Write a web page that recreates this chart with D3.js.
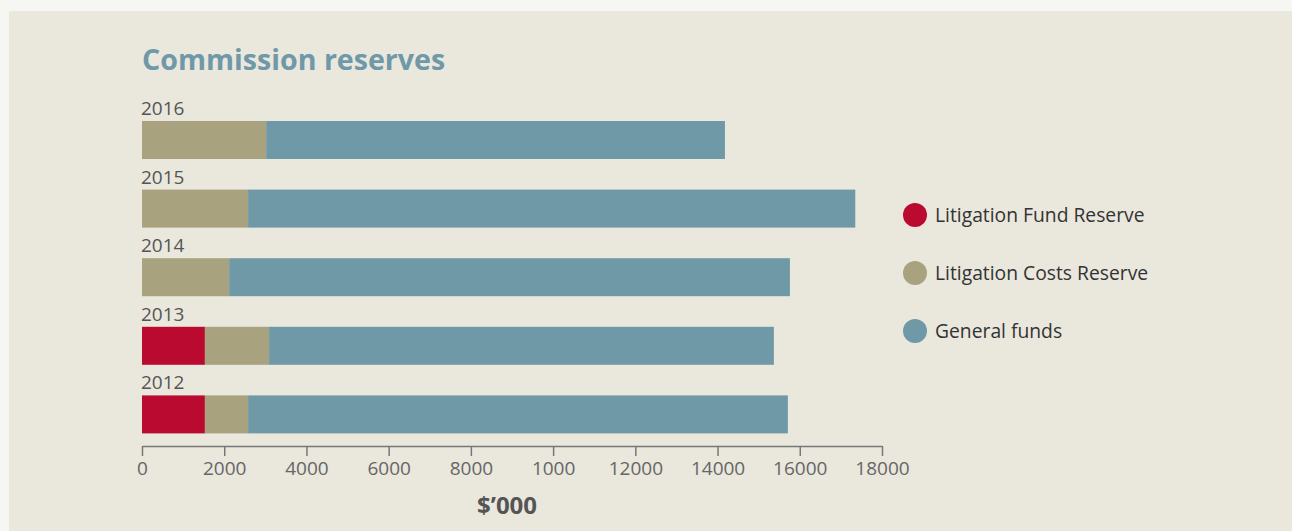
<!DOCTYPE html>
<html>
<head>
<meta charset="utf-8">
<script src="https://cdn.jsdelivr.net/npm/d3@7"></script>
<style>
  body { margin: 0; background: #f6f6f2; font-family: "Open Sans", sans-serif; }
  svg { display: block; }
</style>
</head>
<body>
<script>
// data ($'000)
var years = ["2016", "2015", "2014", "2013", "2012"];
var litigationFund = [0, 0, 0, 1530, 1530];
var litigationCosts = [3020, 2580, 2120, 1560, 1050];
var generalFunds = [11160, 14770, 13640, 12280, 13130];
var seriesNames = ["Litigation Fund Reserve", "Litigation Costs Reserve", "General funds"];
var tickValues = [0, 2000, 4000, 6000, 8000, 10000, 12000, 14000, 16000, 18000];
var tickLabels = ["0", "2000", "4000", "6000", "8000", "1000", "12000", "14000", "16000", "18000"];

var colors = ["#bb0a2f", "#a9a27f", "#7099a8"];
var W = 1292, H = 531;

var rows = years.map(function(y, i) {
    return { year: y, lfr: litigationFund[i], lcr: litigationCosts[i], gf: generalFunds[i] };
});

var svg = d3.select("body").append("svg")
    .attr("width", W)
    .attr("height", H);

svg.append("rect")
    .attr("x", 9).attr("y", 11)
    .attr("width", W - 9).attr("height", H - 11)
    .attr("fill", "#eae7dd");

svg.append("text")
    .attr("x", 142).attr("y", 70)
    .attr("fill", "#6f99a8")
    .style("font-size", "28.6px")
    .style("font-weight", "bold")
    .text("Commission reserves");

var x = d3.scaleLinear()
    .domain([0, 18000])
    .range([142, 882]);

var y = d3.scaleBand()
    .domain(years)
    .range([98, 441])
    .paddingInner(0);

var stack = d3.stack().keys(["lfr", "lcr", "gf"]);
var layers = stack(rows);

svg.selectAll("g.layer")
    .data(layers)
    .enter().append("g")
    .attr("class", "layer")
    .attr("fill", function(d, i) { return colors[i]; })
    .selectAll("rect")
    .data(function(d) { return d; })
    .enter().append("rect")
    .attr("x", function(d) { return x(d[0]); })
    .attr("y", function(d) { return y(d.data.year) + 23; })
    .attr("width", function(d) { return x(d[1]) - x(d[0]); })
    .attr("height", 38);

svg.selectAll("text.year")
    .data(years)
    .enter().append("text")
    .attr("class", "year")
    .attr("x", 141)
    .attr("y", function(d) { return y(d) + 17; })
    .attr("fill", "#555")
    .style("font-size", "19px")
    .text(function(d) { return d; });

var xAxis = d3.axisBottom()
    .scale(x)
    .tickValues(tickValues)
    .tickFormat(function(d, i) { return tickLabels[i]; })
    .tickSize(10)
    .tickPadding(6)
    .tickSizeOuter(0);

var ax = svg.append("g")
    .attr("transform", "translate(0,446)")
    .call(xAxis);
ax.select(".domain").attr("stroke", "#777").attr("stroke-width", 1.5);
ax.selectAll(".tick line").attr("stroke", "#777").attr("stroke-width", 1.5);
ax.selectAll(".tick text")
    .attr("fill", "#666")
    .style("font-size", "19px")
    .style("font-family", "Open Sans, sans-serif");

svg.append("text")
    .attr("x", 507).attr("y", 514)
    .attr("text-anchor", "middle")
    .attr("fill", "#555")
    .style("font-size", "24px")
    .style("font-weight", "bold")
    .text("$\u2019000");

var legend = svg.selectAll("g.legend")
    .data(seriesNames)
    .enter().append("g")
    .attr("class", "legend")
    .attr("transform", function(d, i) { return "translate(915," + (215 + i * 58) + ")"; });
legend.append("circle")
    .attr("r", 12)
    .attr("fill", function(d, i) { return colors[i]; });
legend.append("text")
    .attr("x", 20)
    .attr("y", 7)
    .attr("fill", "#333")
    .style("font-size", "19.3px")
    .text(function(d) { return d; });
</script>
</body>
</html>
